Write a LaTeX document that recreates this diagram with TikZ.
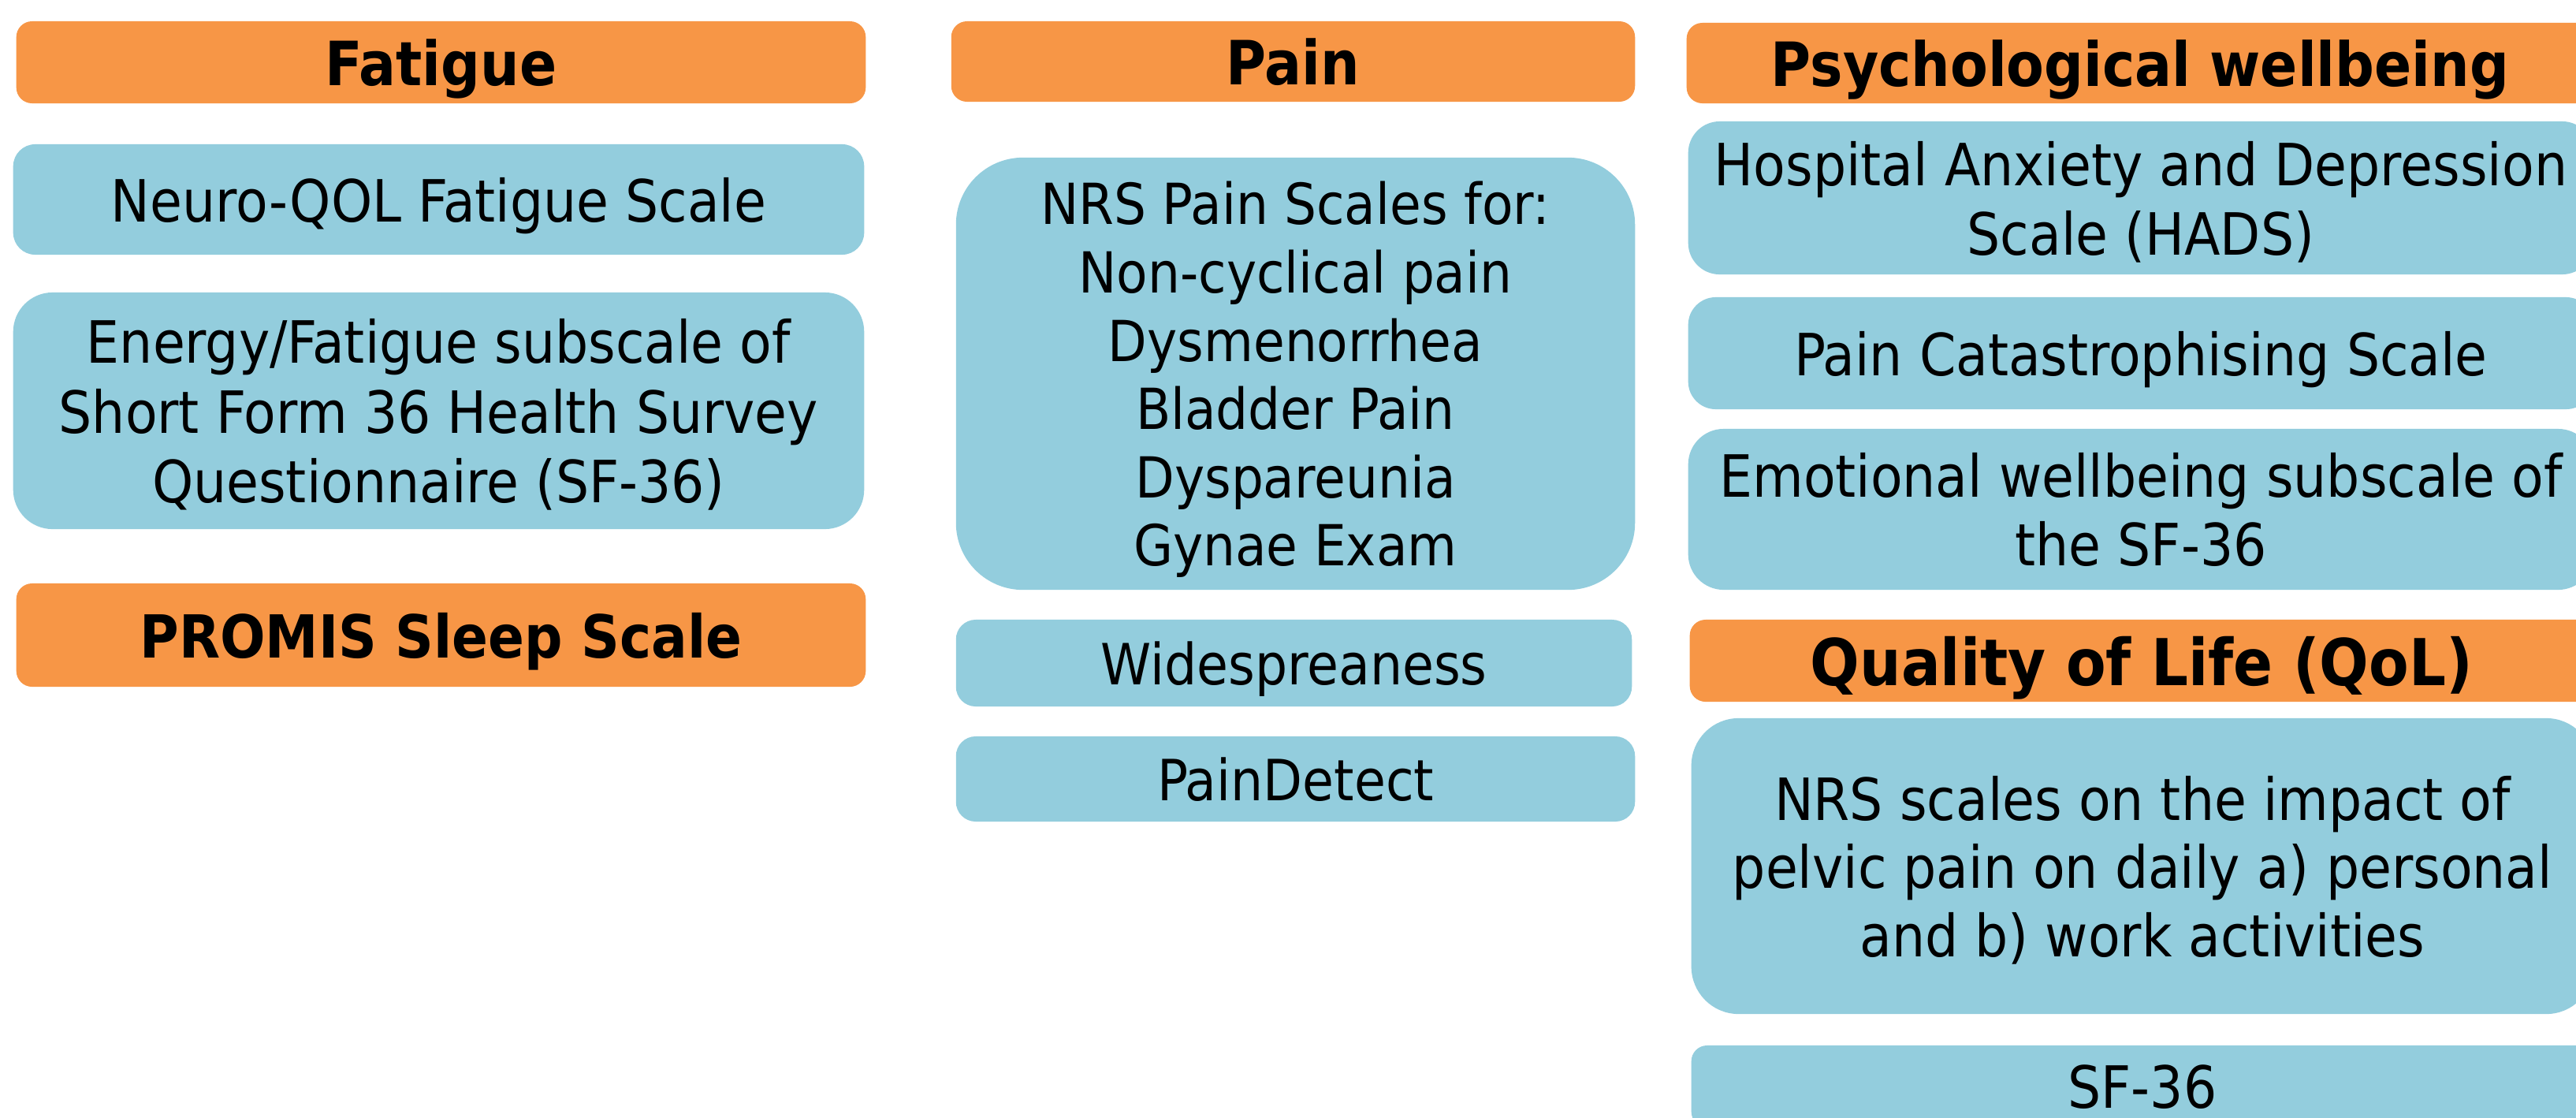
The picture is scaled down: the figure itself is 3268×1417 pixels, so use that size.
\documentclass[tikz,border=0pt]{standalone}
\usepackage{fontspec}
\setmainfont{DejaVu Sans Condensed}
\definecolor{hdrorange}{HTML}{F79646}
\definecolor{itemblue}{HTML}{93CDDD}
\tikzset{
  hdr/.style={fill=hdrorange, draw=none, inner sep=0pt, align=center, text depth=0pt,
    font=\fontsize{22pt}{26pt}\selectfont\bfseries},
  itembox/.style={fill=itemblue, draw=none, inner sep=0pt, align=center, text depth=0pt,
    font=\fontsize{21pt}{24.6pt}\selectfont},
  painfont/.style={font=\fontsize{20.5pt}{24.6pt}\selectfont},
}
\begin{document}
\begin{tikzpicture}[x=0.01cm,y=-0.01cm]
\useasboundingbox (0,0) rectangle (3268,1417);
\clip (0,0) rectangle (3268,1417);
% Fatigue column
\node[hdr, minimum width=10.77cm, minimum height=1.04cm, rounded corners=0.2cm] (fat) at (559.5,79) {Fatigue};
\node[itembox, minimum width=10.79cm, minimum height=1.40cm, rounded corners=0.28cm] (neuro) at (556.5,253) {Neuro-QOL Fatigue Scale};
\node[itembox, font=\fontsize{21pt}{25.2pt}\selectfont, minimum width=10.79cm, minimum height=3.00cm, rounded corners=0.5cm] (energy) at (556.5,521) {Energy/Fatigue subscale of\\Short Form 36 Health Survey\\Questionnaire (SF-36)};
\node[hdr, font=\fontsize{21.4pt}{26pt}\selectfont\bfseries, minimum width=10.77cm, minimum height=1.31cm, rounded corners=0.2cm] (promis) at (559.5,805.5) {PROMIS Sleep Scale};
% Pain column
\node[hdr, minimum width=8.67cm, minimum height=1.02cm, rounded corners=0.2cm] (pain) at (1640.5,78) {Pain};
\node[itembox, font=\fontsize{20.4pt}{24.6pt}\selectfont, minimum width=8.61cm, minimum height=5.48cm, rounded corners=0.85cm] (nrspain) at (1643.5,474) {NRS Pain Scales for:\\Non-cyclical pain\\Dysmenorrhea\\Bladder Pain\\Dyspareunia\\Gynae Exam};
\node[itembox, painfont, minimum width=8.57cm, minimum height=1.10cm, rounded corners=0.25cm] (wide) at (1641.5,841) {Widespreaness};
\node[itembox, painfont, minimum width=8.61cm, minimum height=1.08cm, rounded corners=0.25cm] (detect) at (1643.5,988) {PainDetect};
% Psychological column
\node[hdr, minimum width=11.50cm, minimum height=1.02cm, rounded corners=0.2cm] (psych) at (2715,80) {Psychological wellbeing};
\node[itembox, font=\fontsize{21pt}{25pt}\selectfont, text depth=-3pt, minimum width=11.48cm, minimum height=1.94cm, rounded corners=0.4cm] (hads) at (2716,251) {Hospital Anxiety and Depression\\Scale (HADS)};
\node[itembox, minimum width=11.48cm, minimum height=1.42cm, rounded corners=0.35cm] (pcs) at (2716,448) {Pain Catastrophising Scale};
\node[itembox, minimum width=11.48cm, minimum height=2.04cm, rounded corners=0.45cm] (emo) at (2716,646) {Emotional wellbeing subscale of\\the SF-36};
\node[hdr, font=\fontsize{23.3pt}{26pt}\selectfont\bfseries, minimum width=11.46cm, minimum height=1.04cm, rounded corners=0.2cm] (qol) at (2717,838) {Quality of Life (QoL)};
\node[itembox, minimum width=11.44cm, minimum height=3.75cm, rounded corners=0.6cm] (nrsqol) at (2718,1098.5) {NRS scales on the impact of\\pelvic pain on daily a) personal\\and b) work activities};
\node[itembox, minimum width=11.44cm, minimum height=1.04cm, rounded corners=0.2cm] (sf) at (2718,1378) {SF-36};
\end{tikzpicture}
\end{document}
